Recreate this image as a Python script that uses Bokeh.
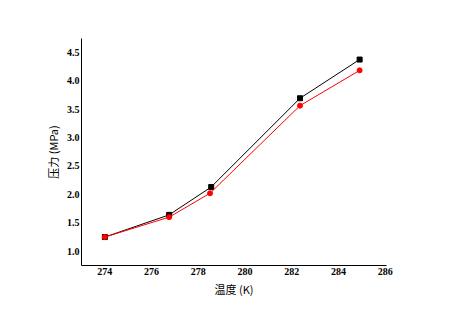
from bokeh.plotting import figure
from bokeh.models import Range1d, FixedTicker, PrintfTickFormatter
from bokeh.embed import file_html
from bokeh.resources import INLINE

# data
temp_black = [274.0, 276.75, 278.55, 282.35, 284.9]
pres_black = [1.25, 1.64, 2.13, 3.69, 4.37]
temp_red = [274.0, 276.75, 278.5, 282.35, 284.9]
pres_red = [1.25, 1.60, 2.02, 3.56, 4.18]
x_ticks = [274, 276, 278, 280, 282, 284, 286]
y_ticks = [1.0, 1.5, 2.0, 2.5, 3.0, 3.5, 4.0, 4.5]

p = figure(width=449, height=318, output_backend="svg", toolbar_location=None,
           x_range=Range1d(273.0, 286.05), y_range=Range1d(0.75, 4.74),
           min_border_left=81, min_border_right=63, min_border_top=38, min_border_bottom=53)
p.outline_line_color = None
p.grid.visible = False
p.background_fill_color = "white"
p.border_fill_color = "white"

p.line(temp_black, pres_black, line_color="black", line_width=1)
p.scatter(temp_black, pres_black, marker="square", size=5, fill_color="black", line_color="black")
p.line(temp_red, pres_red, line_color="red", line_width=1)
p.scatter(temp_red, pres_red, marker="circle", size=5, fill_color="red", line_color="red")

for ax in (p.xaxis[0], p.yaxis[0]):
    ax.axis_line_color = "black"
    ax.axis_line_width = 1
    ax.major_tick_line_color = None
    ax.minor_tick_line_color = None
    ax.major_tick_out = 0
    ax.major_tick_in = 0
    ax.major_label_text_font = "Liberation Serif"
    ax.major_label_text_font_style = "bold"
    ax.major_label_text_font_size = "10px"
    ax.major_label_text_color = "black"
    ax.axis_label_text_font = "Noto Sans CJK SC"
    ax.axis_label_text_font_style = "normal"
    ax.axis_label_text_font_size = "11px"
    ax.axis_label_text_color = "black"

p.xaxis[0].ticker = FixedTicker(ticks=x_ticks)
p.yaxis[0].ticker = FixedTicker(ticks=y_ticks)
p.yaxis[0].formatter = PrintfTickFormatter(format="%.1f")
p.xaxis[0].major_label_standoff = 2
p.yaxis[0].major_label_standoff = 2
p.xaxis[0].axis_label = "温度 (K)"
p.yaxis[0].axis_label = "压力 (MPa)"
p.xaxis[0].axis_label_standoff = 3
p.yaxis[0].axis_label_standoff = 3

open("out.html", "w").write(file_html(p, INLINE))
